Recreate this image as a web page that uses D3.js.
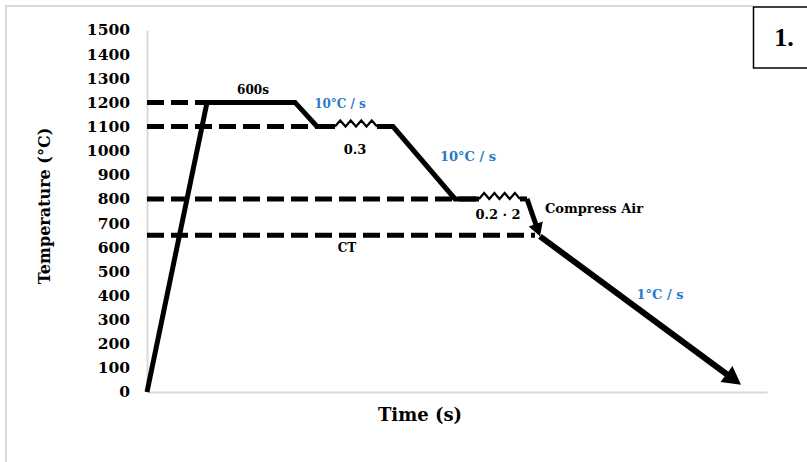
<!DOCTYPE html>
<html><head><meta charset="utf-8">
<script src="https://cdn.jsdelivr.net/npm/d3@7"></script>
<style>
html,body{margin:0;padding:0;background:#fff;}
svg{display:block;}
text{font-family:"DejaVu Serif",serif;font-weight:bold;fill:#000;}
</style></head>
<body>
<svg id="c" width="807" height="462"></svg>
<script>
// ---- data ----
const tempTicks = [0,100,200,300,400,500,600,700,800,900,1000,1100,1200,1300,1400,1500];
// heating, soak, first cooling to 1100
const seg1Time = [0, 60, 148, 170, 188];
const seg1Temp = [0, 1200, 1200, 1100, 1100];
// after first deformation, cool to 800
const seg2Time = [230, 246, 308, 332];
const seg2Temp = [1100, 1100, 800, 800];
// after second deformation
const seg3Time = [373, 380];
const seg3Temp = [800, 800];
// compressed air quench to CT
const quenchTime = [380, 393];
const quenchTemp = [800, 645];
// slow cooling 1 °C/s
const coolTime = [393, 594];
const coolTemp = [645, 30];
// deformation (zigzag) intervals
const zigTime = [[188, 230], [332, 373]];
const zigTemp = [1100, 800];
// dashed reference levels
const refTemp = [1200, 1100, 800, 650];
const refEnd  = [60, 188, 332, 388];
// annotations
const labels = [
  {text:"600s", t:106, T:1200, dy:-8, size:12, color:"#000"},
  {text:"10°C / s", t:193, T:1200, dy:6, size:12, color:"#2B7BC6"},
  {text:"0.3", t:208, T:1100, dy:27, size:13, color:"#000"},
  {text:"10°C / s", t:321, T:1000, dy:10, size:13, color:"#2B7BC6"},
  {text:"0.2 · 2", t:351, T:800, dy:20, size:13, color:"#000"},
  {text:"Compress Air", t:447, T:800, dy:14, size:13, color:"#000"},
  {text:"CT", t:200, T:650, dy:17, size:12, color:"#000"},
  {text:"1°C / s", t:513, T:400, dy:4, size:13, color:"#2B7BC6"}
];

// ---- drawing ----
const svg = d3.select("#c");
const x = d3.scaleLinear().domain([0, 620]).range([147, 767]);
const y = d3.scaleLinear().domain([0, 1500]).range([392, 30]);

// outer frame
svg.append("path").attr("d","M6,462 L6,6 L754,6").attr("fill","none")
  .attr("stroke","#d9d9d9").attr("stroke-width",2);
svg.append("rect").attr("x",753.5).attr("y",7).attr("width",60).attr("height",61)
  .attr("fill","#fff").attr("stroke","#000").attr("stroke-width",1.5);
svg.append("text").attr("x",784).attr("y",46).attr("text-anchor","middle")
  .style("font-family","'Liberation Serif',serif").style("font-size","26px").text("1.");

// axes
const yAxis = svg.append("g").attr("transform",`translate(${x(0)},0)`)
  .call(d3.axisLeft(y).tickValues(tempTicks).tickFormat(d3.format("d")).tickSize(0).tickPadding(17));
yAxis.select(".domain").attr("stroke","#d9d9d9").attr("stroke-width",2);
yAxis.selectAll("text").style("font-family","'DejaVu Serif',serif").style("font-weight","bold")
  .style("font-size","15.5px").attr("fill","#000");

const xAxis = svg.append("g").attr("transform",`translate(0,${y(0)})`)
  .call(d3.axisBottom(x).tickValues([]).tickSizeOuter(0));
xAxis.select(".domain").attr("stroke","#d9d9d9").attr("stroke-width",2);

svg.append("text").attr("x",420).attr("y",421).attr("text-anchor","middle")
  .style("font-size","18px").text("Time (s)");
svg.append("text").attr("transform","translate(50,206) rotate(-90)").attr("text-anchor","middle")
  .style("font-size","16px").text("Temperature (°C)");

// dashed reference lines
refTemp.forEach((T,i)=>{
  svg.append("line").attr("x1",x(0)).attr("x2",x(refEnd[i]))
    .attr("y1",y(T)).attr("y2",y(T))
    .attr("stroke","#000").attr("stroke-width",5).attr("stroke-dasharray","17 7");
});

const line = d3.line().x(d=>x(d[0])).y(d=>y(d[1]));
function drawPath(ts, Ts){
  svg.append("path").datum(ts.map((t,i)=>[t,Ts[i]])).attr("d",line)
    .attr("fill","none").attr("stroke","#000").attr("stroke-width",5)
    .attr("stroke-linejoin","miter").attr("stroke-miterlimit",10);
}
drawPath(seg1Time, seg1Temp);
drawPath(seg2Time, seg2Temp);
drawPath(seg3Time, seg3Temp);

// zigzags
zigTime.forEach((z,i)=>{
  const x0 = x(z[0]), x1 = x(z[1]), yy = y(zigTemp[i]);
  const n = 4, pts = [];
  for(let k=0;k<=2*n;k++) pts.push([x0+(x1-x0)*k/(2*n), yy-(k%2?6:0)]);
  svg.append("path").attr("d", d3.line()(pts)).attr("fill","none")
    .attr("stroke","#000").attr("stroke-width",2.2);
});

// arrows
function arrow(ts, Ts, w, len, hw){
  const x0=x(ts[0]), y0=y(Ts[0]), x1=x(ts[1]), y1=y(Ts[1]);
  const dx=x1-x0, dy=y1-y0, L=Math.hypot(dx,dy), ux=dx/L, uy=dy/L;
  const bx=x1-ux*len, by=y1-uy*len;
  svg.append("path").attr("d", d3.line()([[x0,y0],[bx+ux*2,by+uy*2]]))
    .attr("stroke","#000").attr("stroke-width",w).attr("fill","none");
  svg.append("path").attr("d", d3.line()([[x1,y1],[bx-uy*hw,by+ux*hw],[bx+uy*hw,by-ux*hw]])+"Z")
    .attr("fill","#000");
}
arrow(quenchTime, quenchTemp, 5, 13, 7.5);
arrow(coolTime, coolTemp, 6, 18, 10);

// labels
labels.forEach(l=>{
  svg.append("text").attr("x",x(l.t)).attr("y",y(l.T)+l.dy).attr("text-anchor","middle")
    .style("font-size",l.size+"px").attr("fill",l.color).style("fill",l.color).text(l.text);
});
</script>
</body></html>
